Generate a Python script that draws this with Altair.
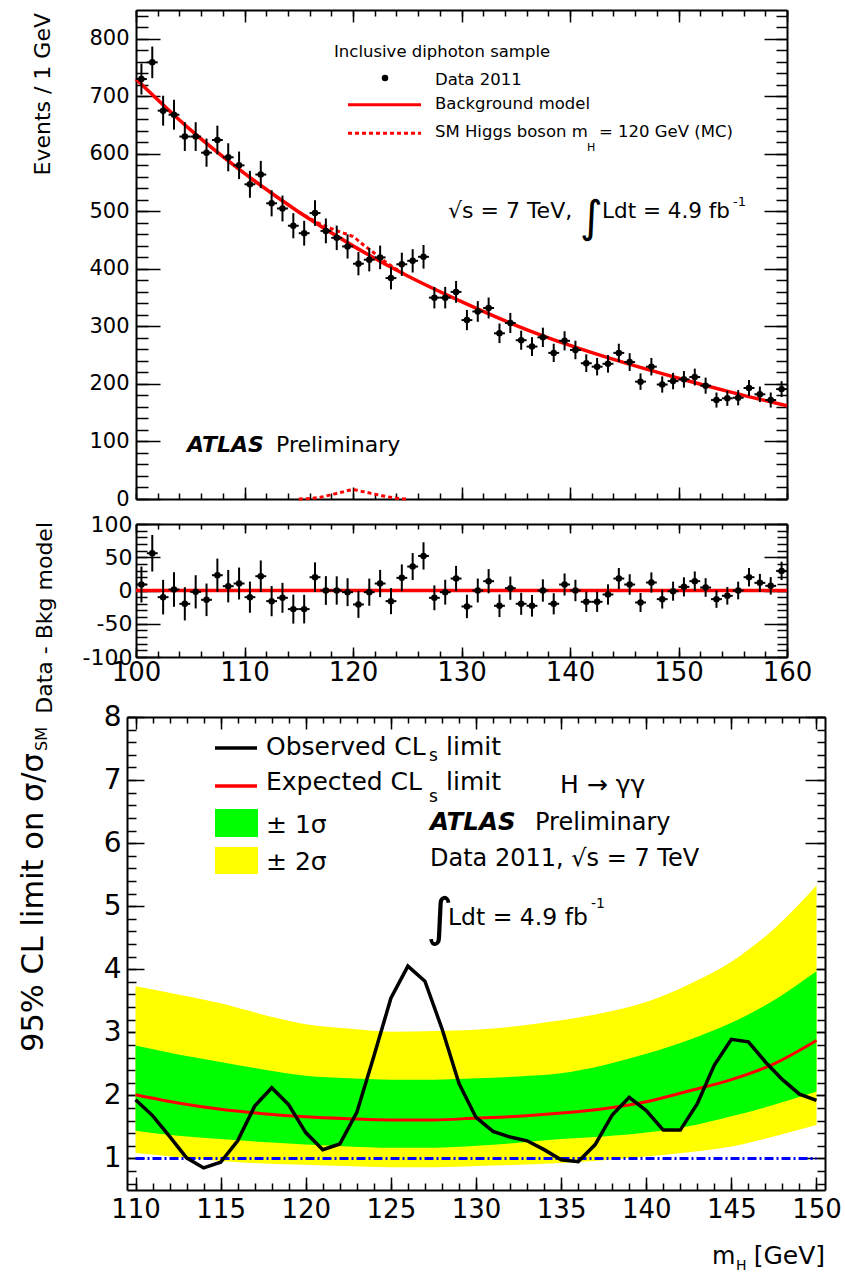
import altair as alt
import pandas as pd

W, H = 845, 1274
FONT = "DejaVu Sans"

# ---------------- data ----------------
bin_centres = [100.5 + i for i in range(60)]
events = [730, 759, 675, 668, 630, 630, 602, 624, 594, 580,
          547, 564, 514, 505, 475, 462, 497, 466, 454, 439,
          409, 416, 420, 384, 408, 414, 421, 350, 350, 360,
          311, 326, 332, 288, 306, 276, 265, 281, 254, 275,
          259, 236, 230, 235, 254, 238, 204, 230, 199, 205,
          208, 212, 197, 172, 175, 176, 193, 182, 172, 191]
event_err = [27, 27.5, 26, 26, 25, 25, 24.5, 25, 24.4, 24,
             23.4, 23.7, 22.7, 22.5, 21.8, 21.5, 22.3, 21.6, 21.3, 21,
             20.2, 20.4, 20.5, 19.6, 20.2, 20.3, 20.5, 18.7, 18.7, 19,
             17.6, 18, 18.2, 17, 17.5, 16.6, 16.3, 16.8, 15.9, 16.6,
             16.1, 15.4, 15.2, 15.3, 15.9, 15.4, 14.3, 15.2, 14.1, 14.3,
             14.4, 14.6, 14, 13.1, 13.2, 13.3, 13.9, 13.5, 13.1, 13.8]
residuals = [9, 56, -10, 1.5, -20, -2, -14, 23, 6.5, 10.5,
             -10, 21.5, -16, -11, -28, -28, 20, 0, 0, -2.5,
             -21, -2.5, 10.5, -16, 19, 36, 52, -11, -2.5, 18,
             -24, 0, 14, -23, 3.5, -20, -23, 0, -20, 9,
             0, -17, -17, -6, 18, 9, -18, 12, -13, -1,
             5.5, 14, 4.5, -13, -8, 0, 20, 11.5, 7, 29.5]

bkg_mass = [100, 105, 110, 115, 120, 125, 130, 135, 140, 145, 150, 155, 160]
bkg_model = [730, 642, 566, 499, 440, 388, 343, 302, 267, 237, 210, 185, 162]

sig_mass = [115, 116, 117, 118, 119, 120, 121, 122, 123, 124, 125]
sig_only = [0, 1, 3, 7.5, 12, 16, 12.5, 8.5, 4.5, 1.5, 0]
sig_plus_bkg = [499, 488, 478, 470, 463, 456, 441, 427, 412, 399.5, 388]

zero_mass = [100, 160]
zero_level = [0, 0]

obs_mass = list(range(110, 151))
observed = [1.93, 1.68, 1.35, 1.01, 0.85, 0.94, 1.28, 1.83, 2.12, 1.85,
            1.41, 1.14, 1.23, 1.73, 2.62, 3.54, 4.05, 3.81, 3.06, 2.19,
            1.65, 1.43, 1.34, 1.28, 1.14, 0.98, 0.95, 1.22, 1.69, 1.97,
            1.76, 1.45, 1.45, 1.87, 2.48, 2.89, 2.85, 2.53, 2.25, 2.02, 1.92]

exp_mass = [110, 112.5, 115, 117.5, 120, 122.5, 125, 127.5, 130, 132.5,
            135, 137.5, 140, 142.5, 145, 147.5, 150]
expected = [2.01, 1.88, 1.78, 1.71, 1.66, 1.63, 1.61, 1.61, 1.64, 1.67,
            1.72, 1.79, 1.90, 2.07, 2.25, 2.50, 2.87]
one_sig_hi = [2.79, 2.65, 2.53, 2.41, 2.31, 2.27, 2.25, 2.25, 2.27, 2.30,
              2.35, 2.48, 2.66, 2.88, 3.15, 3.51, 3.97]
one_sig_lo = [1.44, 1.36, 1.31, 1.26, 1.22, 1.19, 1.17, 1.17, 1.20, 1.25,
              1.31, 1.35, 1.41, 1.51, 1.67, 1.85, 2.06]
two_sig_hi = [3.73, 3.60, 3.46, 3.28, 3.13, 3.06, 3.01, 3.02, 3.04, 3.10,
              3.19, 3.31, 3.48, 3.76, 4.12, 4.64, 5.33]
two_sig_lo = [1.085, 1.02, 0.96, 0.92, 0.90, 0.88, 0.86, 0.86, 0.88, 0.90,
              0.93, 0.97, 1.03, 1.10, 1.19, 1.35, 1.53]

sm_mass = [110, 150]
sm_level = [1, 1]

# tick values
top_y_major = [0, 100, 200, 300, 400, 500, 600, 700, 800]
top_y_minor = list(range(0, 851, 20))
mass_major = [100, 110, 120, 130, 140, 150, 160]
mass_minor = list(range(100, 161, 2))
mid_y_major = [-100, -50, 0, 50, 100]
mid_y_minor = list(range(-100, 101, 10))
lim_y_major = [1, 2, 3, 4, 5, 6, 7, 8]
lim_y_minor = [round(0.6 + 0.2 * i, 1) for i in range(38)]
lim_x_major = [110, 115, 120, 125, 130, 135, 140, 145, 150]
lim_x_minor = list(range(110, 151))

# ---------------- panel geometry (pixels) ----------------
TOP = dict(xdom=[100, 160], xr=[136, 787], ydom=[0, 850], yr=[499, 10])
MID = dict(xdom=[100, 160], xr=[136, 787], ydom=[-100, 100], yr=[657, 524])
BOT = dict(xdom=[109.5, 150.5], xr=[127, 825], ydom=[0.5, 8], yr=[1190, 717])


def xs(p):
    return alt.Scale(domain=p['xdom'], range=p['xr'], nice=False, zero=False)


def ys(p):
    return alt.Scale(domain=p['ydom'], range=p['yr'], nice=False, zero=False)


COMMON = dict(grid=False, title=None, labelFont=FONT, labelColor='black',
              tickColor='black', domainColor='black', tickWidth=1.5,
              domainWidth=2, labelFlush=False, labelOverlap=False)


def ax_lab(orient, offset, values, size, pad):
    return alt.Axis(orient=orient, offset=offset, values=values, labels=True,
                    ticks=False, domain=False, labelFontSize=size,
                    labelPadding=pad, labelExpr="'' + datum.value", **COMMON)


def ax_tick(orient, offset, values, length, domain=False):
    return alt.Axis(orient=orient, offset=offset, values=values, labels=False,
                    ticks=True, tickSize=length, domain=domain, **COMMON)


def left_in(p, values, length, domain=False):
    return ax_tick('right', p['xr'][0] - W, values, length, domain)


def right_in(p, values, length, domain=False):
    return ax_tick('left', -p['xr'][1], values, length, domain)


def bottom_in(p, values, length, domain=False):
    return ax_tick('top', -p['yr'][0], values, length, domain)


def top_in(p, values, length, domain=False):
    return ax_tick('bottom', p['yr'][1] - H, values, length, domain)


def axis_layers(p, xaxes, yaxes):
    dummy = pd.DataFrame({'x': [sum(p['xdom']) / 2], 'y': [sum(p['ydom']) / 2]})
    out = []
    for i in range(max(len(xaxes), len(yaxes))):
        xa = xaxes[i] if i < len(xaxes) else None
        ya = yaxes[i] if i < len(yaxes) else None
        out.append(alt.Chart(dummy).mark_point(opacity=0).encode(
            x=alt.X('x:Q', scale=xs(p), axis=xa),
            y=alt.Y('y:Q', scale=ys(p), axis=ya)))
    return out


ONE = pd.DataFrame({'a': [0]})


def text(t, x, y, size, align='left', angle=0, weight='normal', style='normal',
         baseline='alphabetic', color='black'):
    return alt.Chart(ONE).mark_text(
        text=t, fontSize=size, font=FONT, align=align, angle=angle,
        fontWeight=weight, fontStyle=style, baseline=baseline, color=color
    ).encode(x=alt.value(x), y=alt.value(y))


def hline(x0, x1, y, color, width, dash=None):
    kw = dict(color=color, strokeWidth=width)
    if dash:
        kw['strokeDash'] = dash
    return alt.Chart(ONE).mark_rule(**kw).encode(
        x=alt.value(x0), x2=alt.value(x1), y=alt.value(y))


def box(x0, x1, y0, y1, color):
    return alt.Chart(ONE).mark_rect(color=color).encode(
        x=alt.value(x0), x2=alt.value(x1), y=alt.value(y0), y2=alt.value(y1))


# ---------------- data frames ----------------
d_top = pd.DataFrame({'m': bin_centres, 'v': events, 'e': event_err})
d_top['lo'] = d_top['v'] - d_top['e']
d_top['hi'] = d_top['v'] + d_top['e']
d_top['ml'] = d_top['m'] - 0.5
d_top['mh'] = d_top['m'] + 0.5

d_mid = pd.DataFrame({'m': bin_centres, 'v': residuals, 'e': event_err})
d_mid['lo'] = d_mid['v'] - d_mid['e']
d_mid['hi'] = d_mid['v'] + d_mid['e']
d_mid['ml'] = d_mid['m'] - 0.5
d_mid['mh'] = d_mid['m'] + 0.5

d_bkg = pd.DataFrame({'m': bkg_mass, 'v': bkg_model})
d_sig = pd.DataFrame({'m': sig_mass, 'v': sig_only})
d_sb = pd.DataFrame({'m': sig_mass, 'v': sig_plus_bkg})
d_zero = pd.DataFrame({'m': zero_mass, 'v': zero_level})
d_obs = pd.DataFrame({'m': obs_mass, 'v': observed})
d_exp = pd.DataFrame({'m': exp_mass, 'v': expected, 'h1': one_sig_hi,
                      'l1': one_sig_lo, 'h2': two_sig_hi, 'l2': two_sig_lo})
d_sm = pd.DataFrame({'m': sm_mass, 'v': sm_level})

RED = '#ff0000'


def hist_layers(p, d):
    X = lambda f: alt.X(f + ':Q', scale=xs(p), axis=None)
    Y = lambda f: alt.Y(f + ':Q', scale=ys(p), axis=None)
    vbar = alt.Chart(d).mark_rule(color='black', strokeWidth=2).encode(
        x=X('m'), y=Y('lo'), y2='hi')
    hbar = alt.Chart(d).mark_rule(color='black', strokeWidth=2).encode(
        x=X('ml'), x2='mh', y=Y('v'))
    pts = alt.Chart(d).mark_point(filled=True, shape='circle', size=42,
                                  color='black', opacity=1).encode(
        x=X('m'), y=Y('v'))
    return [vbar, hbar, pts]


def line(p, d, color, width, dash=None, interp='linear', yfield='v'):
    kw = dict(color=color, strokeWidth=width, interpolate=interp)
    if dash:
        kw['strokeDash'] = dash
    return alt.Chart(d).mark_line(**kw).encode(
        x=alt.X('m:Q', scale=xs(p), axis=None),
        y=alt.Y(yfield + ':Q', scale=ys(p), axis=None))


layers = []

# ---------- top panel ----------
layers += [
    line(TOP, d_bkg, RED, 3.5, interp='monotone'),
    line(TOP, d_sb, RED, 3, dash=[4, 3], interp='monotone'),
    line(TOP, d_sig, RED, 3, dash=[4, 3], interp='monotone'),
]
layers += hist_layers(TOP, d_top)
layers += axis_layers(
    TOP,
    [bottom_in(TOP, mass_major, 12, True), bottom_in(TOP, mass_minor, 6),
     top_in(TOP, mass_major, 12, True), top_in(TOP, mass_minor, 6)],
    [ax_lab('left', -TOP['xr'][0], top_y_major, 21, 7),
     left_in(TOP, top_y_major, 24, True), left_in(TOP, top_y_minor, 12),
     right_in(TOP, top_y_major, 23, True), right_in(TOP, top_y_minor, 11)])

# ---------- middle panel ----------
layers += [line(MID, d_zero, RED, 3.5)]
layers += hist_layers(MID, d_mid)
layers += axis_layers(
    MID,
    [ax_lab('bottom', MID['yr'][0] - H, mass_major, 26, 2),
     bottom_in(MID, mass_major, 10, True), bottom_in(MID, mass_minor, 6),
     top_in(MID, mass_major, 9, True), top_in(MID, mass_minor, 5)],
    [ax_lab('left', -MID['xr'][0], mid_y_major, 22, 4),
     left_in(MID, mid_y_major, 24, True), left_in(MID, mid_y_minor, 11),
     right_in(MID, mid_y_major, 23, True), right_in(MID, mid_y_minor, 10)])

# ---------- bottom panel ----------
XB = alt.X('m:Q', scale=xs(BOT), axis=None)
layers += [
    alt.Chart(d_exp).mark_area(color='#ffff00', interpolate='monotone').encode(
        x=XB, y=alt.Y('h2:Q', scale=ys(BOT), axis=None), y2='l2'),
    alt.Chart(d_exp).mark_area(color='#00ff00', interpolate='monotone').encode(
        x=XB, y=alt.Y('h1:Q', scale=ys(BOT), axis=None), y2='l1'),
    line(BOT, d_sm, '#0000ff', 3, dash=[9, 3, 2, 3]),
    line(BOT, d_exp, RED, 3, interp='monotone'),
    line(BOT, d_obs, 'black', 3.5),
]
layers += axis_layers(
    BOT,
    [ax_lab('bottom', BOT['yr'][0] - H, lim_x_major, 26, 6),
     bottom_in(BOT, lim_x_major, 13, True), bottom_in(BOT, lim_x_minor, 7),
     top_in(BOT, lim_x_major, 12, True), top_in(BOT, lim_x_minor, 6)],
    [ax_lab('left', -BOT['xr'][0], lim_y_major, 28, 6),
     left_in(BOT, lim_y_major, 17, True), left_in(BOT, lim_y_minor, 9),
     right_in(BOT, lim_y_major, 20, True), right_in(BOT, lim_y_minor, 8)])

# ---------- annotations ----------
layers += [
    # top panel
    text('Events / 1 GeV', 50, 13, 22, align='right', angle=270),
    text('Inclusive diphoton sample', 334, 57, 16.5),
    alt.Chart(ONE).mark_point(filled=True, shape='circle', size=42, color='black',
                              opacity=1).encode(x=alt.value(385), y=alt.value(78)),
    text('Data 2011', 435, 85, 16.5),
    hline(348, 421, 104.7, RED, 3),
    text('Background model', 435, 109, 16.5),
    hline(348, 421, 133.3, RED, 3, dash=[4, 3]),
    text('SM Higgs boson m', 435, 137, 16.5),
    text('H', 587, 151, 11),
    text('= 120 GeV (MC)', 599, 137, 16.5),
    text('\u221as = 7 TeV,', 448, 218, 22),
    text('\u222b', 580, 232, 44),
    text('Ldt = 4.9 fb', 602, 218, 21.5),
    text('-1', 733, 206, 13),
    text('ATLAS', 187, 452, 22, weight='bold', style='italic'),
    text('Preliminary', 276, 452, 22),
    # middle panel
    text('Data - Bkg model', 52, 522, 22, align='right', angle=270),
    # bottom panel
    text('95% CL limit on \u03c3/\u03c3', 43, 1052, 30.5, align='left', angle=270),
    text('SM', 47, 751, 16, align='left', angle=270),
    hline(215, 257, 748, 'black', 3.5),
    text('Observed CL', 266, 755, 25),
    text('s', 429, 761, 17),
    text('limit', 446, 755, 25),
    hline(215, 257, 786, RED, 3.5),
    text('Expected CL', 266, 790, 25),
    text('s', 429, 802, 17),
    text('limit', 446, 790, 25),
    box(215, 258, 809, 837, '#00ff00'),
    text('\u00b1 1\u03c3', 266, 833, 25),
    box(215, 258, 847, 874, '#ffff00'),
    text('\u00b1 2\u03c3', 266, 870, 25),
    text('H \u2192 \u03b3\u03b3', 560, 793, 25),
    text('ATLAS', 430, 830, 24.5, weight='bold', style='italic'),
    text('Preliminary', 535, 830, 24),
    text('Data 2011, \u221as = 7 TeV', 430, 866, 24),
    text('\u222b', 426, 935, 52),
    text('Ldt = 4.9 fb', 448, 925, 23.5),
    text('-1', 591, 908, 14),
    text('m', 712, 1264, 24),
    text('H', 736, 1270, 14),
    text('[GeV]', 825, 1264, 25, align='right'),
]

chart = alt.layer(*layers).resolve_scale(
    x='independent', y='independent'
).resolve_axis(
    x='independent', y='independent'
).properties(
    width=W, height=H, padding=0,
    autosize=alt.AutoSizeParams(type='none'),
    background='white'
).configure_view(strokeWidth=0)

chart.save("out.html", embed_options={"renderer": "svg", "actions": False})
